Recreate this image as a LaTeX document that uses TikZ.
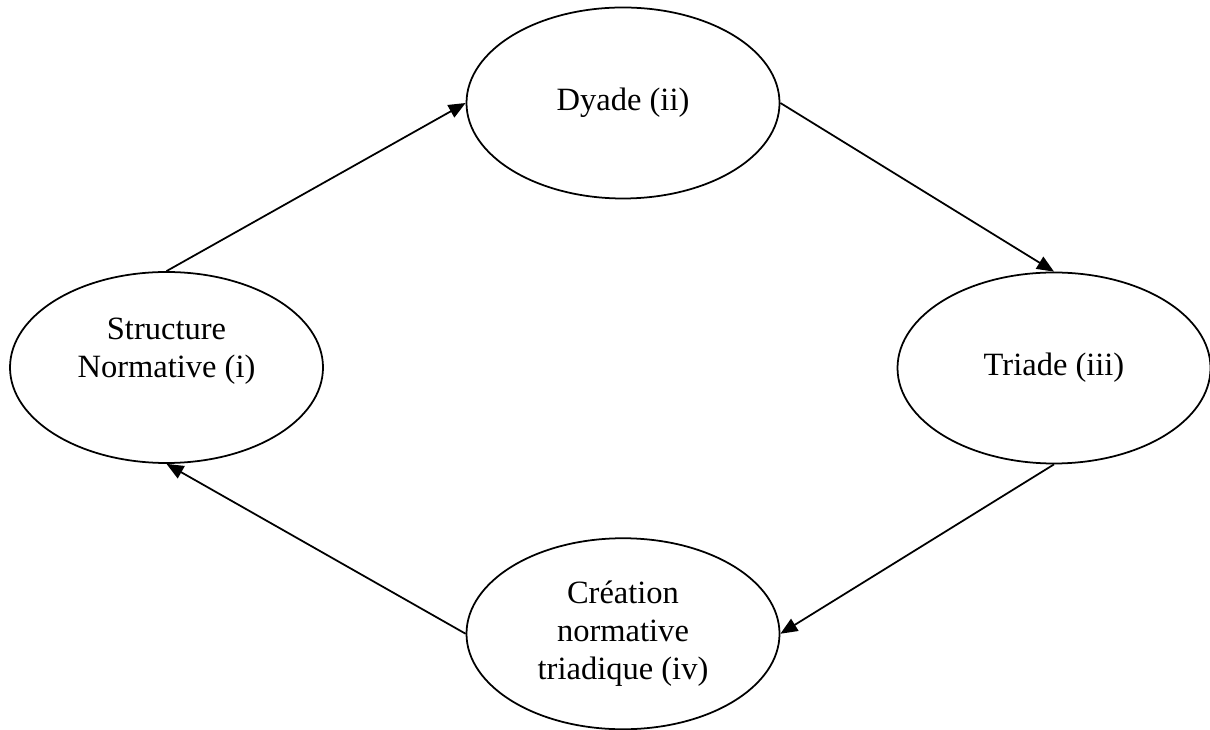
\documentclass[tikz,border=0pt]{standalone}
\usepackage{fontspec}
\setmainfont{Liberation Serif}
\usetikzlibrary{positioning,shapes.geometric,arrows.meta}

\tikzset{
  etat/.style={ellipse, draw, line width=1pt, minimum width=6.26cm,
    minimum height=3.82cm, inner sep=0pt, align=center,
    font=\fontsize{18.5}{21.5}\selectfont},
  texte/.style={inner sep=0pt, align=center,
    font=\fontsize{18.5}{21.5}\selectfont},
  fleche/.style={line width=1pt, -{Triangle[length=0.34cm,width=0.28cm]}}
}

\begin{document}
\begin{tikzpicture}
  \useasboundingbox (0,0) rectangle (24.2,14.58);

  % Define nodes
  \node[etat] at (12.46,12.52)           (dyade)    {Dyade (ii)};
  \node[etat, below=6.76cm of dyade]     (creation) {Création\\normative\\triadique (iv)};
  \node[etat] at (3.33,7.23)             (struct)   {};
  \node[texte, above=-0.35cm of struct.center] (structtxt) {Structure\\Normative (i)};
  \node[etat] at (21.08,7.22)            (triade)   {Triade (iii)};

  % Connect the nodes
  \draw[fleche] (struct.north) -- (dyade.west) ; %
  \draw[fleche] (dyade.east) -- (triade.north) ; %
  \draw[fleche] (triade.south) -- (creation.east) ; %
  \draw[fleche] (creation.west) -- (struct.south) ; %
\end{tikzpicture}
\end{document}
